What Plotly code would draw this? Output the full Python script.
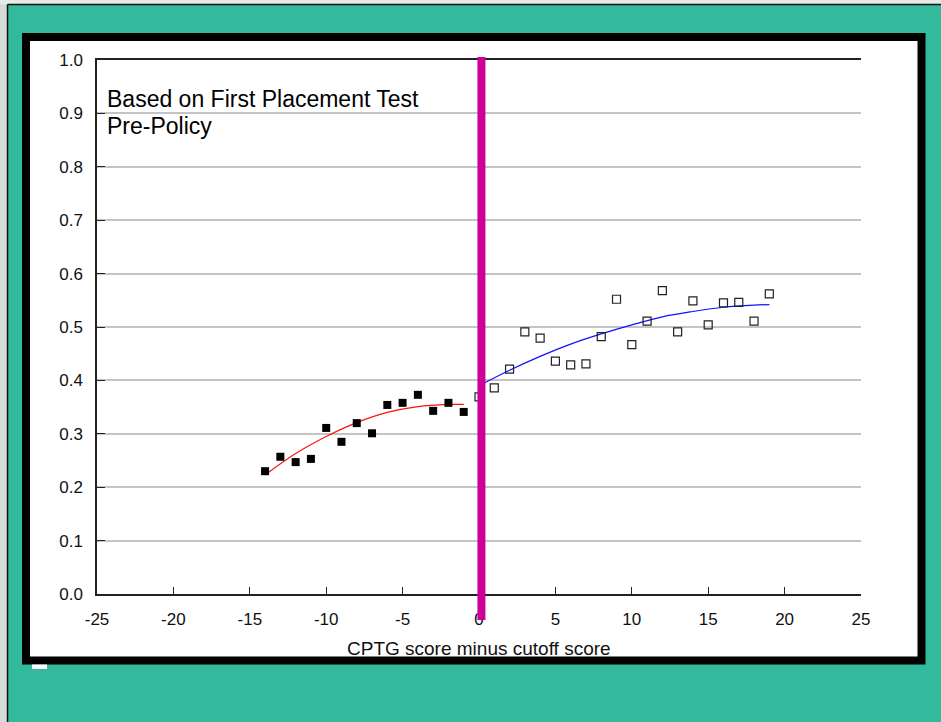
import plotly.graph_objects as go

# ---- data ----
below_x = [-14, -13, -12, -11, -10, -9, -8, -7, -6, -5, -4, -3, -2, -1]
below_y = [0.230, 0.257, 0.247, 0.253, 0.311, 0.285, 0.320, 0.301, 0.354, 0.358, 0.373, 0.343, 0.358, 0.341]

above_x = [0, 1, 2, 3, 4, 5, 6, 7, 8, 9, 10, 11, 12, 13, 14, 15, 16, 17, 18, 19]
above_y = [0.369, 0.386, 0.421, 0.491, 0.479, 0.436, 0.429, 0.431, 0.482, 0.552, 0.467,
           0.511, 0.568, 0.491, 0.549, 0.504, 0.545, 0.546, 0.511, 0.562]

fit_below_x = [-14, -12, -10, -8, -6, -4, -2, -1]
fit_below_y = [0.223, 0.263, 0.295, 0.321, 0.340, 0.351, 0.355, 0.355]

fit_above_x = [0, 2, 4, 6, 8, 10, 12, 14, 16, 18, 19]
fit_above_y = [0.390, 0.419, 0.445, 0.468, 0.487, 0.504, 0.519, 0.529, 0.537, 0.541, 0.542]

x_ticks = [-25, -20, -15, -10, -5, 0, 5, 10, 15, 20, 25]
y_ticks = [0.0, 0.1, 0.2, 0.3, 0.4, 0.5, 0.6, 0.7, 0.8, 0.9, 1.0]

cutoff = 0.16
title_lines = ["Based on First Placement Test", "Pre-Policy"]
x_title = "CPTG score minus cutoff score"

# ---- figure ----
W, H = 941, 722
L, R, T, B = 97, 80, 60, 128
pw, ph = W - L - R, H - T - B


def px_x(p):
    return (p - L) / pw


def px_y(p):
    return (H - B - p) / ph


FONT = "Liberation Sans, Arial, sans-serif"
TEAL = "#33b99c"

fig = go.Figure()

fig.add_trace(go.Scatter(x=fit_below_x, y=fit_below_y, mode="lines",
                         line=dict(color="#ff1010", width=1.2, shape="spline"),
                         hoverinfo="skip"))
fig.add_trace(go.Scatter(x=fit_above_x, y=fit_above_y, mode="lines",
                         line=dict(color="#1010ff", width=1.2, shape="spline"),
                         hoverinfo="skip"))
fig.add_trace(go.Scatter(x=below_x, y=below_y, mode="markers",
                         marker=dict(symbol="square", size=8, color="black",
                                     line=dict(width=0))))
fig.add_trace(go.Scatter(x=above_x, y=above_y, mode="markers",
                         marker=dict(symbol="square-open", size=8, color="#222",
                                     line=dict(width=1.2))))

shapes = [
    # outer light strips
    dict(type="rect", xref="paper", yref="paper", x0=px_x(0), x1=px_x(7.5), y0=px_y(H), y1=px_y(0),
         fillcolor="#d5dcd8", line=dict(width=0), layer="below"),
    dict(type="rect", xref="paper", yref="paper", x0=px_x(0), x1=px_x(W), y0=px_y(4.5), y1=px_y(0),
         fillcolor="#e6ebe8", line=dict(width=0), layer="below"),
    dict(type="line", xref="paper", yref="paper", x0=px_x(7.5), x1=px_x(7.5), y0=px_y(H), y1=px_y(4.5),
         line=dict(color="#111", width=1.5), layer="below"),
    dict(type="line", xref="paper", yref="paper", x0=px_x(7.5), x1=px_x(W), y0=px_y(4.5), y1=px_y(4.5),
         line=dict(color="#111", width=1.5), layer="below"),
    # black framed white panel
    dict(type="rect", xref="paper", yref="paper", x0=px_x(26), x1=px_x(921.5), y0=px_y(660.5), y1=px_y(37),
         fillcolor="white", line=dict(color="black", width=8), layer="below"),
    # small white artifact under frame
    dict(type="rect", xref="paper", yref="paper", x0=px_x(32), x1=px_x(47), y0=px_y(669), y1=px_y(664.5),
         fillcolor="white", line=dict(width=0), layer="below"),
    # cutoff line
    dict(type="line", xref="x", yref="paper", x0=cutoff, x1=cutoff, y0=px_y(620), y1=px_y(57),
         line=dict(color="#cc0099", width=8), layer="above"),
]

annotations = [
    dict(text=title_lines[0], xref="paper", yref="paper", x=px_x(105), y=px_y(99),
         xanchor="left", yanchor="middle", align="left", showarrow=False,
         font=dict(family=FONT, size=23, color="black")),
    dict(text=title_lines[1], xref="paper", yref="paper", x=px_x(105), y=px_y(126),
         xanchor="left", yanchor="middle", align="left", showarrow=False,
         font=dict(family=FONT, size=23, color="black")),
    dict(text=x_title, xref="paper", yref="paper", x=0.5, y=px_y(648),
         xanchor="center", yanchor="middle", showarrow=False,
         font=dict(family=FONT, size=19, color="#111")),
]

fig.update_layout(
    width=W, height=H,
    margin=dict(l=L, r=R, t=T, b=B, pad=0),
    paper_bgcolor=TEAL,
    plot_bgcolor="white",
    showlegend=False,
    shapes=shapes,
    annotations=annotations,
    font=dict(family=FONT, size=17, color="#111"),
)

fig.update_xaxes(range=[-25, 25], tickvals=x_ticks, ticktext=[str(v) for v in x_ticks],
                 ticks="inside", ticklen=7, tickcolor="#222", tickwidth=1.2,
                 showline=True, linecolor="#222", linewidth=1.5, mirror=True,
                 showgrid=False, zeroline=False, ticklabelstandoff=9,
                 tickfont=dict(family=FONT, size=17, color="#111"))
fig.update_yaxes(range=[0, 1], tickvals=y_ticks, tickformat=".1f",
                 ticks="inside", ticklen=8, tickcolor="#222", tickwidth=1.2,
                 showline=True, linecolor="#222", linewidth=1.5, mirror=False,
                 showgrid=True, gridcolor="#c4c4c4", gridwidth=1.5, zeroline=False,
                 ticklabelstandoff=9,
                 tickfont=dict(family=FONT, size=17, color="#111"))

fig.write_html("out.html")
